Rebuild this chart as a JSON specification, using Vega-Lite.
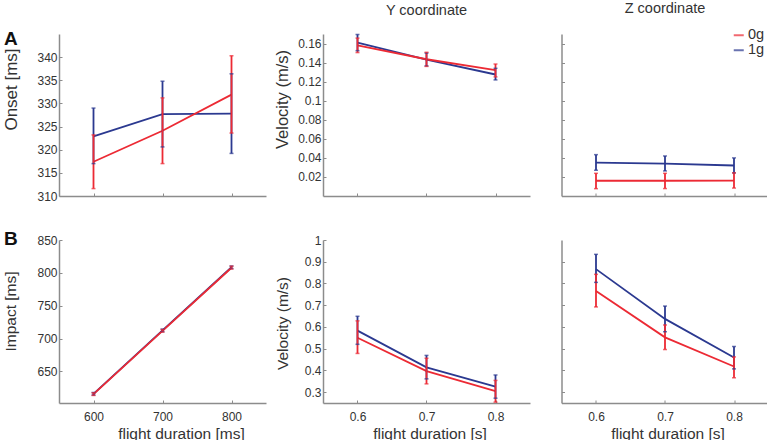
{
  "$schema": "https://vega.github.io/schema/vega-lite/v6.json",
  "padding": {"left": 1, "top": 1, "right": 0, "bottom": 0},
  "config": {
    "font": "Liberation Sans",
    "view": {"stroke": null},
    "axis": {"grid": false, "domainColor": "#8c8c8c", "tickColor": "#8c8c8c", "domainWidth": 1.5, "tickWidth": 1, "tickSize": -3, "tickCount": 20, "labelFont": "Liberation Sans", "titleFont": "Liberation Sans", "labelFontSize": 12, "titleFontSize": 15.5, "titleFontWeight": "normal", "labelColor": "#333333", "titleColor": "#333333", "labelPadding": 5, "labelOverlap": false},
    "axisX": {"labelPadding": 11},
    "title": {"font": "Liberation Sans", "fontWeight": "normal", "fontSize": 14.5, "color": "#333333"},
    "legend": {"labelFont": "Liberation Sans", "labelColor": "#333333"}
  },
  "datasets": {
    "d": [
      {"panel": "A_onset", "g": "1g", "dur": 600, "mean": 322.9, "lo": 317.0, "hi": 329.0},
      {"panel": "A_onset", "g": "1g", "dur": 700, "mean": 327.7, "lo": 320.6, "hi": 334.8},
      {"panel": "A_onset", "g": "1g", "dur": 800, "mean": 327.8, "lo": 319.2, "hi": 336.4},
      {"panel": "A_onset", "g": "0g", "dur": 600, "mean": 317.4, "lo": 311.6, "hi": 323.2},
      {"panel": "A_onset", "g": "0g", "dur": 700, "mean": 324.1, "lo": 317.0, "hi": 331.2},
      {"panel": "A_onset", "g": "0g", "dur": 800, "mean": 331.9, "lo": 323.6, "hi": 340.3},
      {"panel": "A_Y", "g": "1g", "dur": 0.6, "mean": 0.161, "lo": 0.1525, "hi": 0.1695},
      {"panel": "A_Y", "g": "1g", "dur": 0.7, "mean": 0.1432, "lo": 0.1365, "hi": 0.150},
      {"panel": "A_Y", "g": "1g", "dur": 0.8, "mean": 0.1275, "lo": 0.1218, "hi": 0.134},
      {"panel": "A_Y", "g": "0g", "dur": 0.6, "mean": 0.158, "lo": 0.1505, "hi": 0.1657},
      {"panel": "A_Y", "g": "0g", "dur": 0.7, "mean": 0.1435, "lo": 0.136, "hi": 0.1508},
      {"panel": "A_Y", "g": "0g", "dur": 0.8, "mean": 0.132, "lo": 0.125, "hi": 0.1385},
      {"panel": "A_Z", "g": "1g", "dur": 0.6, "mean": 0.035, "lo": 0.027, "hi": 0.0434},
      {"panel": "A_Z", "g": "1g", "dur": 0.7, "mean": 0.034, "lo": 0.0263, "hi": 0.042},
      {"panel": "A_Z", "g": "1g", "dur": 0.8, "mean": 0.032, "lo": 0.0242, "hi": 0.040},
      {"panel": "A_Z", "g": "0g", "dur": 0.6, "mean": 0.016, "lo": 0.0077, "hi": 0.0238},
      {"panel": "A_Z", "g": "0g", "dur": 0.7, "mean": 0.016, "lo": 0.0078, "hi": 0.0238},
      {"panel": "A_Z", "g": "0g", "dur": 0.8, "mean": 0.0162, "lo": 0.0083, "hi": 0.0243},
      {"panel": "B_impact", "g": "1g", "dur": 600, "mean": 616.0, "lo": 614.0, "hi": 618.0},
      {"panel": "B_impact", "g": "1g", "dur": 700, "mean": 712.5, "lo": 710.5, "hi": 714.5},
      {"panel": "B_impact", "g": "1g", "dur": 800, "mean": 808.5, "lo": 806.5, "hi": 810.5},
      {"panel": "B_impact", "g": "0g", "dur": 600, "mean": 615.5, "lo": 613.5, "hi": 617.5},
      {"panel": "B_impact", "g": "0g", "dur": 700, "mean": 711.8, "lo": 709.8, "hi": 713.8},
      {"panel": "B_impact", "g": "0g", "dur": 800, "mean": 807.8, "lo": 805.8, "hi": 810.2},
      {"panel": "B_Y", "g": "1g", "dur": 0.6, "mean": 0.583, "lo": 0.52, "hi": 0.649},
      {"panel": "B_Y", "g": "1g", "dur": 0.7, "mean": 0.414, "lo": 0.361, "hi": 0.469},
      {"panel": "B_Y", "g": "1g", "dur": 0.8, "mean": 0.325, "lo": 0.272, "hi": 0.379},
      {"panel": "B_Y", "g": "0g", "dur": 0.6, "mean": 0.55, "lo": 0.478, "hi": 0.628},
      {"panel": "B_Y", "g": "0g", "dur": 0.7, "mean": 0.397, "lo": 0.338, "hi": 0.456},
      {"panel": "B_Y", "g": "0g", "dur": 0.8, "mean": 0.305, "lo": 0.254, "hi": 0.354},
      {"panel": "B_Z", "g": "1g", "dur": 0.6, "mean": 0.866, "lo": 0.805, "hi": 0.934},
      {"panel": "B_Z", "g": "1g", "dur": 0.7, "mean": 0.637, "lo": 0.578, "hi": 0.696},
      {"panel": "B_Z", "g": "1g", "dur": 0.8, "mean": 0.459, "lo": 0.407, "hi": 0.51},
      {"panel": "B_Z", "g": "0g", "dur": 0.6, "mean": 0.765, "lo": 0.692, "hi": 0.842},
      {"panel": "B_Z", "g": "0g", "dur": 0.7, "mean": 0.552, "lo": 0.496, "hi": 0.609},
      {"panel": "B_Z", "g": "0g", "dur": 0.8, "mean": 0.418, "lo": 0.366, "hi": 0.462}
    ]
  },
  "spacing": 28,
  "resolve": {"legend": {"color": "independent"}},
  "vconcat": [
    {
      "spacing": 57,
      "bounds": "flush",
      "resolve": {"legend": {"color": "independent"}},
      "hconcat": [
        {
          "width": 207, "height": 162,
          "title": {"text": "A", "anchor": "start", "frame": "group", "dx": -55, "offset": -30, "baseline": "alphabetic", "fontSize": 19, "fontWeight": "bold", "color": "#111111"},
          "data": {"name": "d"},
          "transform": [{"filter": "datum.panel === 'A_onset'"}],
          "encoding": {
            "x": {"field": "dur", "type": "quantitative", "scale": {"domain": [550, 850], "nice": false, "zero": false}, "axis": {"values": [600, 700, 800], "labels": false, "title": null}},
            "color": {"field": "g", "type": "nominal", "scale": {"domain": ["0g", "1g"], "range": ["#ec2a34", "#2b3990"]}, "legend": null}
          },
          "layer": [
            {"mark": {"type": "line", "strokeWidth": 1.8, "clip": false}, "encoding": {"y": {"field": "mean", "type": "quantitative", "scale": {"domain": [310, 345], "nice": false, "zero": false}, "axis": {"values": [310, 315, 320, 325, 330, 335, 340], "tickCount": 20, "labelOverlap": false, "title": "Onset [ms]", "titleFontSize": 17, "titleX": -43, "titleY": 55, "titleBaseline": "alphabetic", "titleAngle": -90, "titleAlign": "center"}}}},
            {"mark": {"type": "rule", "strokeWidth": 1.8, "clip": false}, "encoding": {"y": {"field": "lo", "type": "quantitative"}, "y2": {"field": "hi"}}},
            {"mark": {"type": "tick", "orient": "horizontal", "size": 4, "thickness": 1.5, "clip": false}, "encoding": {"y": {"field": "lo", "type": "quantitative"}}},
            {"mark": {"type": "tick", "orient": "horizontal", "size": 4, "thickness": 1.5, "clip": false}, "encoding": {"y": {"field": "hi", "type": "quantitative"}}}
          ]
        },
        {
          "spacing": 31.5,
          "bounds": "flush",
          "resolve": {"legend": {"color": "independent"}},
          "hconcat": [
            {
              "width": 207, "height": 162,
              "title": {"text": "Y coordinate", "anchor": "middle", "offset": 4, "baseline": "alphabetic"},
              "data": {"name": "d"},
              "transform": [{"filter": "datum.panel === 'A_Y'"}],
              "encoding": {
                "x": {"field": "dur", "type": "quantitative", "scale": {"domain": [0.55, 0.85], "nice": false, "zero": false}, "axis": {"values": [0.6, 0.7, 0.8], "labels": false, "title": null}},
                "color": {"field": "g", "type": "nominal", "scale": {"domain": ["0g", "1g"], "range": ["#ec2a34", "#2b3990"]}, "legend": null}
              },
              "layer": [
                {"mark": {"type": "line", "strokeWidth": 1.8, "clip": false}, "encoding": {"y": {"field": "mean", "type": "quantitative", "scale": {"domain": [0, 0.17], "nice": false, "zero": false}, "axis": {"values": [0.02, 0.04, 0.06, 0.08, 0.1, 0.12, 0.14, 0.16], "tickCount": 20, "labelOverlap": false, "format": ".2~f", "title": "Velocity (m/s)", "titleFontSize": 16.5, "titleX": -36, "titleY": 65, "titleBaseline": "alphabetic", "titleAngle": -90, "titleAlign": "center"}}}},
                {"mark": {"type": "rule", "strokeWidth": 1.8, "clip": false}, "encoding": {"y": {"field": "lo", "type": "quantitative"}, "y2": {"field": "hi"}}},
                {"mark": {"type": "tick", "orient": "horizontal", "size": 4, "thickness": 1.5, "clip": false}, "encoding": {"y": {"field": "lo", "type": "quantitative"}}},
                {"mark": {"type": "tick", "orient": "horizontal", "size": 4, "thickness": 1.5, "clip": false}, "encoding": {"y": {"field": "hi", "type": "quantitative"}}}
              ]
            },
            {
              "width": 207, "height": 162,
              "title": {"text": "Z coordinate", "anchor": "middle", "offset": 0.5, "baseline": "alphabetic"},
              "data": {"name": "d"},
              "transform": [{"filter": "datum.panel === 'A_Z'"}],
              "encoding": {
                "x": {"field": "dur", "type": "quantitative", "scale": {"domain": [0.55, 0.85], "nice": false, "zero": false}, "axis": {"values": [0.6, 0.7, 0.8], "labels": false, "title": null}},
                "color": {"field": "g", "type": "nominal", "scale": {"domain": ["0g", "1g"], "range": ["#ec2a34", "#2b3990"]}, "legend": {"orient": "none", "legendX": 170, "legendY": -6, "title": null, "symbolType": "stroke", "symbolSize": 100, "symbolStrokeWidth": 2, "labelFontSize": 14.5, "labelOffset": 2, "rowPadding": 0, "padding": 0}}
              },
              "layer": [
                {"mark": {"type": "line", "strokeWidth": 1.8, "clip": false}, "encoding": {"y": {"field": "mean", "type": "quantitative", "scale": {"domain": [0, 0.17], "nice": false, "zero": false}, "axis": {"values": [0.02, 0.04, 0.06, 0.08, 0.1, 0.12, 0.14, 0.16], "tickCount": 20, "labels": false, "title": null}}}},
                {"mark": {"type": "rule", "strokeWidth": 1.8, "clip": false}, "encoding": {"y": {"field": "lo", "type": "quantitative"}, "y2": {"field": "hi"}}},
                {"mark": {"type": "tick", "orient": "horizontal", "size": 4, "thickness": 1.5, "clip": false}, "encoding": {"y": {"field": "lo", "type": "quantitative"}}},
                {"mark": {"type": "tick", "orient": "horizontal", "size": 4, "thickness": 1.5, "clip": false}, "encoding": {"y": {"field": "hi", "type": "quantitative"}}}
              ]
            }
          ]
        }
      ]
    },
    {
      "spacing": 57,
      "bounds": "flush",
      "resolve": {"legend": {"color": "independent"}},
      "hconcat": [
        {
          "width": 207, "height": 163,
          "title": {"text": "B", "anchor": "start", "frame": "group", "dx": -55, "offset": -30, "baseline": "alphabetic", "fontSize": 19, "fontWeight": "bold", "color": "#111111"},
          "data": {"name": "d"},
          "transform": [{"filter": "datum.panel === 'B_impact'"}],
          "encoding": {
            "x": {"field": "dur", "type": "quantitative", "scale": {"domain": [550, 850], "nice": false, "zero": false}, "axis": {"values": [600, 700, 800], "title": "flight duration [ms]", "titleX": 122, "titleY": 35.5, "titleBaseline": "alphabetic", "titleAlign": "center"}},
            "color": {"field": "g", "type": "nominal", "scale": {"domain": ["0g", "1g"], "range": ["#ec2a34", "#2b3990"]}, "legend": null}
          },
          "layer": [
            {"mark": {"type": "line", "strokeWidth": 1.8, "clip": false}, "encoding": {"y": {"field": "mean", "type": "quantitative", "scale": {"domain": [602, 850], "nice": false, "zero": false}, "axis": {"values": [650, 700, 750, 800, 850], "tickCount": 20, "labelOverlap": false, "title": "Impact [ms]", "titleX": -44, "titleY": 71, "titleBaseline": "alphabetic", "titleAngle": -90, "titleAlign": "center"}}}},
            {"mark": {"type": "rule", "strokeWidth": 1.8, "clip": false}, "encoding": {"y": {"field": "lo", "type": "quantitative"}, "y2": {"field": "hi"}}},
            {"mark": {"type": "tick", "orient": "horizontal", "size": 4, "thickness": 1.5, "clip": false}, "encoding": {"y": {"field": "lo", "type": "quantitative"}}},
            {"mark": {"type": "tick", "orient": "horizontal", "size": 4, "thickness": 1.5, "clip": false}, "encoding": {"y": {"field": "hi", "type": "quantitative"}}}
          ]
        },
        {
          "spacing": 31.5,
          "bounds": "flush",
          "resolve": {"legend": {"color": "independent"}},
          "hconcat": [
            {
              "width": 207, "height": 163,
              "data": {"name": "d"},
              "transform": [{"filter": "datum.panel === 'B_Y'"}],
              "encoding": {
                "x": {"field": "dur", "type": "quantitative", "scale": {"domain": [0.55, 0.85], "nice": false, "zero": false}, "axis": {"values": [0.6, 0.7, 0.8], "format": ".1f", "title": "flight duration [s]", "titleX": 106.5, "titleY": 35.5, "titleBaseline": "alphabetic", "titleAlign": "center"}},
                "color": {"field": "g", "type": "nominal", "scale": {"domain": ["0g", "1g"], "range": ["#ec2a34", "#2b3990"]}, "legend": null}
              },
              "layer": [
                {"mark": {"type": "line", "strokeWidth": 1.8, "clip": false}, "encoding": {"y": {"field": "mean", "type": "quantitative", "scale": {"domain": [0.25, 1], "nice": false, "zero": false}, "axis": {"values": [0.3, 0.4, 0.5, 0.6, 0.7, 0.8, 0.9, 1], "tickCount": 20, "labelOverlap": false, "format": ".1~f", "title": "Velocity (m/s)", "titleX": -36, "titleY": 83, "titleBaseline": "alphabetic", "titleAngle": -90, "titleAlign": "center"}}}},
                {"mark": {"type": "rule", "strokeWidth": 1.8, "clip": false}, "encoding": {"y": {"field": "lo", "type": "quantitative"}, "y2": {"field": "hi"}}},
                {"mark": {"type": "tick", "orient": "horizontal", "size": 4, "thickness": 1.5, "clip": false}, "encoding": {"y": {"field": "lo", "type": "quantitative"}}},
                {"mark": {"type": "tick", "orient": "horizontal", "size": 4, "thickness": 1.5, "clip": false}, "encoding": {"y": {"field": "hi", "type": "quantitative"}}}
              ]
            },
            {
              "width": 207, "height": 163,
              "data": {"name": "d"},
              "transform": [{"filter": "datum.panel === 'B_Z'"}],
              "encoding": {
                "x": {"field": "dur", "type": "quantitative", "scale": {"domain": [0.55, 0.85], "nice": false, "zero": false}, "axis": {"values": [0.6, 0.7, 0.8], "format": ".1f", "title": "flight duration [s]", "titleX": 106, "titleY": 35.5, "titleBaseline": "alphabetic", "titleAlign": "center"}},
                "color": {"field": "g", "type": "nominal", "scale": {"domain": ["0g", "1g"], "range": ["#ec2a34", "#2b3990"]}, "legend": null}
              },
              "layer": [
                {"mark": {"type": "line", "strokeWidth": 1.8, "clip": false}, "encoding": {"y": {"field": "mean", "type": "quantitative", "scale": {"domain": [0.25, 1], "nice": false, "zero": false}, "axis": {"values": [0.3, 0.4, 0.5, 0.6, 0.7, 0.8, 0.9], "tickCount": 20, "labels": false, "title": null}}}},
                {"mark": {"type": "rule", "strokeWidth": 1.8, "clip": false}, "encoding": {"y": {"field": "lo", "type": "quantitative"}, "y2": {"field": "hi"}}},
                {"mark": {"type": "tick", "orient": "horizontal", "size": 4, "thickness": 1.5, "clip": false}, "encoding": {"y": {"field": "lo", "type": "quantitative"}}},
                {"mark": {"type": "tick", "orient": "horizontal", "size": 4, "thickness": 1.5, "clip": false}, "encoding": {"y": {"field": "hi", "type": "quantitative"}}}
              ]
            }
          ]
        }
      ]
    }
  ]
}
